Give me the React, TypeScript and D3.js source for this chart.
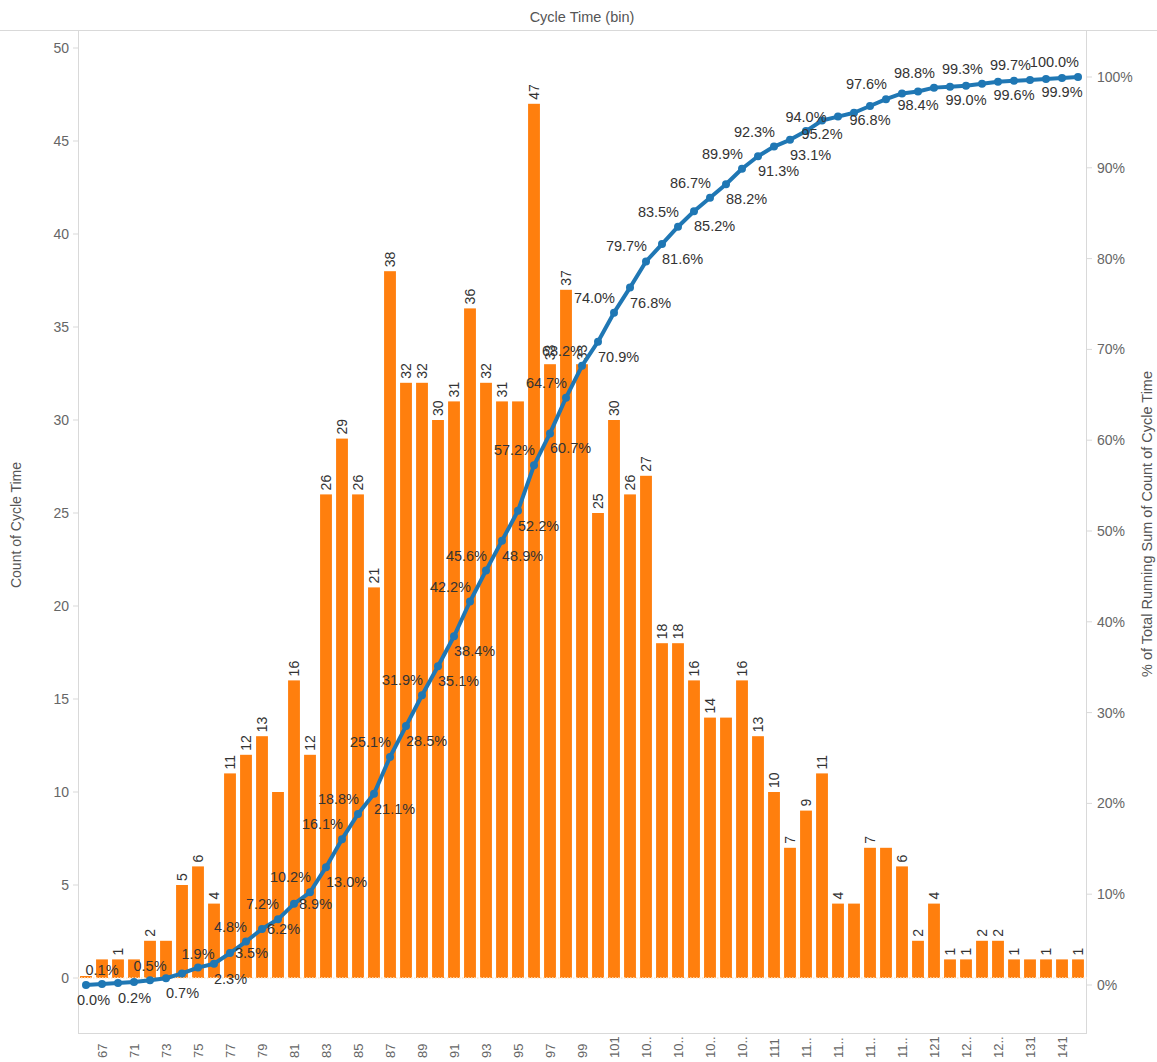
import React from 'react';
import * as d3 from 'd3';

// Categories: Cycle Time bins (one per bar)
const bins: string[] = [
  "66", "67", "69", "71", "72", "73", "74", "75", "76", "77", "78", "79", "80",
  "81", "82", "83", "84", "85", "86", "87", "88", "89", "90", "91", "92", "93",
  "94", "95", "96", "97", "98", "99", "100", "101", "102", "103", "104", "105",
  "106", "107", "108", "109", "110", "111", "112", "113", "114", "115", "116",
  "117", "118", "119", "120", "121", "122", "123", "124", "126", "128", "131",
  "136", "141", "149",
];

// Count of Cycle Time per bin
const counts: number[] = [
  0, 1, 1, 1, 2, 2, 5, 6, 4, 11, 12, 13, 10, 16, 12, 26, 29, 26, 21, 38, 32, 32,
  30, 31, 36, 32, 31, 31, 47, 33, 37, 33, 25, 30, 26, 27, 18, 18, 16, 14, 14, 16,
  13, 10, 7, 9, 11, 4, 4, 7, 7, 6, 2, 4, 1, 1, 2, 2, 1, 1, 1, 1, 1,
];

// Bars whose count label is hidden in the reference (index)
const hiddenCountLabels: number[] = [0, 1, 3, 5, 12, 27, 40, 48, 50, 59, 61];

// Placement of the running-% label for each point ("" = hidden)
const pctLabelPlacement: string[] = [
  "br", "a", "br", "", "a", "br", "", "a", "br", "r", "al", "r", "al", "r", "al",
  "br", "al", "al", "br", "al", "br", "al", "br", "br", "al", "al", "br", "br",
  "al", "br", "al", "al", "br", "al", "br", "al", "br", "al", "br", "al", "br",
  "al", "br", "al", "br", "a", "b", "", "", "b", "al", "", "b", "al", "", "b",
  "al", "", "b", "al", "", "b", "al",
];

const countTicks: number[] = [0, 5, 10, 15, 20, 25, 30, 35, 40, 45, 50];
const pctTicks: number[] = [0, 0.1, 0.2, 0.3, 0.4, 0.5, 0.6, 0.7, 0.8, 0.9, 1.0];

const W = 1157;
const H = 1062;
const FONT = 'Arial, "Liberation Sans", sans-serif';
const BAR = '#ff7f0e';
const LINE = '#1f77b4';
const LABEL = '#333333';
const AXIS_TEXT = '#666666';
const RULE = '#d9d9d9';

function tickText(b: string): string {
  // Tableau truncates the wider 3-digit labels
  if (b.length >= 3 && b[b.length - 1] !== '1') return b.slice(0, 2) + '..';
  return b;
}

export default function App() {
  const left = 78;
  const right = 1087;
  const top = 30;
  const bottom = 1033;

  const x = d3.scaleBand<string>().domain(bins).range([left, right - 1]).paddingInner(0.26).paddingOuter(0.13);
  const yCount = d3.scaleLinear().domain([0, 50]).range([978, 48]);
  const yPct = d3.scaleLinear().domain([0, 1]).range([985, 77]);

  const total = d3.sum(counts);
  const cum = d3.cumsum(counts);
  const pts = bins.map((b, i) => ({
    b,
    i,
    cx: (x(b) as number) + x.bandwidth() / 2,
    p: cum[i] / total,
  }));

  const line = d3
    .line<{ cx: number; p: number }>()
    .x((d) => d.cx)
    .y((d) => yPct(d.p));

  const hidden = new Set(hiddenCountLabels);

  return (
    <div style={{ position: 'absolute', left: 0, top: 0, width: W, height: H, background: '#fff' }}>
      <svg width={W} height={H} style={{ display: 'block', fontFamily: FONT }}>
        <rect x={0} y={0} width={W} height={H} fill="#fff" />
        {/* header */}
        <text x={582} y={22} textAnchor="middle" fontSize={14.5} fill="#555">
          Cycle Time (bin)
        </text>
        <line x1={0} x2={W} y1={top + 0.5} y2={top + 0.5} stroke={RULE} />

        {/* axis frame */}
        <line x1={left + 0.5} x2={left + 0.5} y1={top} y2={bottom} stroke={RULE} />
        <line x1={right - 0.5} x2={right - 0.5} y1={top} y2={bottom} stroke={RULE} />
        <line x1={left} x2={right} y1={bottom + 0.5} y2={bottom + 0.5} stroke={RULE} />

        {/* left axis */}
        {countTicks.map((t) => (
          <g key={'lc' + t}>
            <line x1={left - 5} x2={left} y1={yCount(t)} y2={yCount(t)} stroke={RULE} />
            <text x={left - 9} y={yCount(t) + 5} textAnchor="end" fontSize={14} fill={AXIS_TEXT}>
              {t}
            </text>
          </g>
        ))}
        <text
          transform={`translate(21,525) rotate(-90)`}
          textAnchor="middle"
          fontSize={14}
          fill="#555"
        >
          Count of Cycle Time
        </text>

        {/* right axis */}
        {pctTicks.map((t) => (
          <g key={'rp' + t}>
            <line x1={right} x2={right + 5} y1={yPct(t)} y2={yPct(t)} stroke={RULE} />
            <text x={right + 10} y={yPct(t) + 5} textAnchor="start" fontSize={14} fill={AXIS_TEXT}>
              {d3.format('.0%')(t)}
            </text>
          </g>
        ))}
        <text
          transform={`translate(1152,524) rotate(-90)`}
          textAnchor="middle"
          fontSize={14.5}
          fill="#555"
        >
          % of Total Running Sum of Count of Cycle Time
        </text>

        {/* bars */}
        {bins.map((b, i) => {
          const y0 = yCount(0);
          const h = Math.max(y0 - yCount(counts[i]), 2);
          return (
            <rect key={'bar' + b} x={x(b)} y={y0 - h} width={x.bandwidth()} height={h} fill={BAR} />
          );
        })}
        {/* zero line */}
        <line
          x1={left}
          x2={right}
          y1={yCount(0)}
          y2={yCount(0)}
          stroke="#fde9cf"
          strokeWidth={1.5}
          strokeDasharray="1.5,1.5"
        />

        {/* count labels */}
        {bins.map((b, i) =>
          hidden.has(i) ? null : (
            <text
              key={'cl' + b}
              transform={`translate(${(x(b) as number) + x.bandwidth() / 2 + 5},${yCount(counts[i]) - 4}) rotate(-90)`}
              textAnchor="start"
              fontSize={14}
              fill={LABEL}
            >
              {counts[i]}
            </text>
          )
        )}

        {/* x tick labels */}
        {bins.map((b, i) =>
          i % 2 === 1 ? (
            <text
              key={'xt' + b}
              transform={`translate(${(x(b) as number) + x.bandwidth() / 2 + 4.5},1058) rotate(-90)`}
              textAnchor="start"
              fontSize={13}
              fill={AXIS_TEXT}
            >
              {tickText(b)}
            </text>
          ) : null
        )}

        {/* running % line */}
        <path d={line(pts) || ''} fill="none" stroke={LINE} strokeWidth={4} strokeLinejoin="round" />
        {pts.map((d) => (
          <circle key={'pt' + d.b} cx={d.cx} cy={yPct(d.p)} r={4} fill={LINE} />
        ))}

        {/* % labels */}
        {pts.map((d) => {
          const pl = pctLabelPlacement[d.i];
          if (!pl) return null;
          const py = yPct(d.p);
          let tx = d.cx;
          let ty = py;
          let anchor: 'start' | 'middle' | 'end' = 'middle';
          if (pl === 'al') {
            tx = d.cx + 1;
            ty = py - 10;
            anchor = 'end';
          } else if (pl === 'br') {
            tx = d.cx;
            ty = py + 20;
            anchor = 'start';
          } else if (pl === 'r') {
            tx = d.cx + 5;
            ty = py + 5;
            anchor = 'start';
          } else if (pl === 'a') {
            ty = py - 9;
          } else if (pl === 'b') {
            ty = py + 19;
          }
          if (d.i === 0) tx = d.cx - 9;
          return (
            <text key={'pl' + d.b} x={tx} y={ty} textAnchor={anchor} fontSize={14.5} fill={LABEL}>
              {d3.format('.1%')(d.p)}
            </text>
          );
        })}
      </svg>
    </div>
  );
}
